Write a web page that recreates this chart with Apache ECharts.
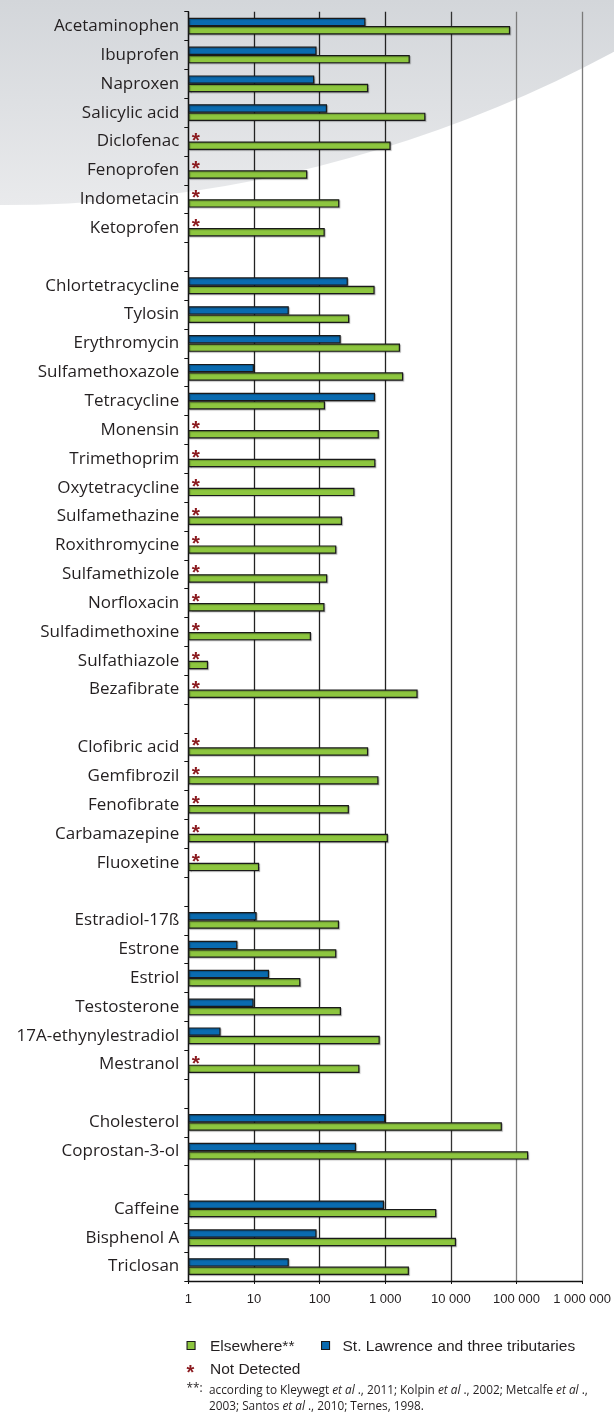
<!DOCTYPE html>
<html>
<head>
<meta charset="utf-8">
<script src="https://cdn.jsdelivr.net/npm/echarts@6/dist/echarts.min.js"></script>
<style>
  html, body { margin: 0; padding: 0; background: #ffffff; }
  #chart { width: 614px; height: 1418px; }
</style>
</head>
<body>
<div id="chart"></div>
<script>
// categories, top to bottom; blank rows separate the groups
const categories = [
  'Acetaminophen', 'Ibuprofen', 'Naproxen', 'Salicylic acid', 'Diclofenac', 'Fenoprofen', 'Indometacin', 'Ketoprofen',
  ' ',
  'Chlortetracycline', 'Tylosin', 'Erythromycin', 'Sulfamethoxazole', 'Tetracycline', 'Monensin', 'Trimethoprim',
  'Oxytetracycline', 'Sulfamethazine', 'Roxithromycine', 'Sulfamethizole', 'Norfloxacin', 'Sulfadimethoxine',
  'Sulfathiazole', 'Bezafibrate',
  '  ',
  'Clofibric acid', 'Gemfibrozil', 'Fenofibrate', 'Carbamazepine', 'Fluoxetine',
  '   ',
  'Estradiol-17ß', 'Estrone', 'Estriol', 'Testosterone', '17A-ethynylestradiol', 'Mestranol',
  '    ',
  'Cholesterol', 'Coprostan-3-ol',
  '     ',
  'Caffeine', 'Bisphenol A', 'Triclosan'
];

// St. Lawrence and three tributaries (ng/L)
const stLawrence = [
  500, 90, 83, 130, null, null, null, null,
  null,
  270, 34, 210, 10, 700, null, null, null, null, null, null, null, null, null, null,
  null,
  null, null, null, null, null,
  null,
  11, 5.6, 17, 9.9, 3.1, null,
  null,
  1000, 360,
  null,
  960, 90, 34
];

// Elsewhere (ng/L)
const elsewhere = [
  80000, 2370, 550, 4100, 1210, 65, 200, 120,
  null,
  690, 283, 1680, 1880, 121, 800, 710, 340, 220, 180, 131, 119, 74, 2, 3120,
  null,
  550, 790, 280, 1100, 12,
  null,
  198, 180, 51, 212, 826, 405,
  null,
  60000, 151000,
  null,
  6000, 12000, 2300
];

// not detected in the St. Lawrence
const notDetected = [
  'Diclofenac', 'Fenoprofen', 'Indometacin', 'Ketoprofen', 'Monensin', 'Trimethoprim', 'Oxytetracycline',
  'Sulfamethazine', 'Roxithromycine', 'Sulfamethizole', 'Norfloxacin', 'Sulfadimethoxine', 'Sulfathiazole',
  'Bezafibrate', 'Clofibric acid', 'Gemfibrozil', 'Fenofibrate', 'Carbamazepine', 'Fluoxetine', 'Mestranol'
];

const xTicks = [1, 10, 100, 1000, 10000, 100000, 1000000];

const BLUE = '#0a6bb0';
const GREEN = '#8dc63f';
const STAR = '#8b1a1f';
const INK = '#231f20';
const LABEL_FONT = '"Open Sans", "Noto Sans", sans-serif';
const TICK_FONT = '"Liberation Sans", Arial, sans-serif';

function spaced(v) {
  return String(Math.round(v)).replace(/\B(?=(\d{3})+(?!\d))/g, ' ');
}

// ND rows: an empty bar carrying the asterisk
const blueData = categories.map((name, i) => {
  if (notDetected.includes(name)) {
    return {
      value: 1,
      itemStyle: { color: 'rgba(0,0,0,0)', borderWidth: 0, shadowColor: 'rgba(0,0,0,0)' },
      label: {
        show: true,
        position: 'right',
        distance: 3.5,
        formatter: '*',
        color: STAR,
        fontFamily: TICK_FONT,
        fontWeight: 'bold',
        fontSize: 21,
        offset: [0, 3.5]
      }
    };
  }
  return stLawrence[i];
});

const barStyle = (color) => ({
  color,
  borderColor: '#1a1a1a',
  borderWidth: 1.2,
  shadowColor: 'rgba(0,0,0,0.25)',
  shadowOffsetX: 1,
  shadowOffsetY: 1,
  shadowBlur: 1
});

const chart = echarts.init(document.getElementById('chart'));

chart.setOption({
  animation: false,
  grid: { left: 188.3, right: 31.3, top: 11.7, height: 1269.3, containLabel: false },
  xAxis: {
    type: 'log',
    logBase: 10,
    min: xTicks[0],
    max: xTicks[xTicks.length - 1],
    interval: 1,
    axisLine: { show: true, lineStyle: { color: '#111', width: 1.3 } },
    axisTick: { show: true, length: 3, lineStyle: { color: '#111' } },
    minorTick: { show: false },
    axisLabel: {
      color: INK,
      fontFamily: TICK_FONT,
      fontSize: 13,
      margin: 12,
      formatter: (v) => spaced(v)
    },
    splitLine: {
      show: true,
      lineStyle: { color: ['#222', '#222', '#222', '#222', '#333', '#7a7a7a', '#7a7a7a'], width: 1.3 }
    }
  },
  yAxis: {
    type: 'category',
    inverse: true,
    data: categories,
    axisLine: { show: true, lineStyle: { color: '#111', width: 1.3 } },
    axisTick: { show: true, length: 4, lineStyle: { color: '#111' } },
    axisLabel: {
      color: INK,
      fontFamily: LABEL_FONT,
      fontSize: 17,
      margin: 9,
      interval: 0
    },
    splitLine: { show: false }
  },
  series: [
    {
      name: 'St. Lawrence and three tributaries',
      type: 'bar',
      data: blueData,
      barWidth: 8.4,
      barGap: '0%',
      itemStyle: barStyle(BLUE),
      z: 3
    },
    {
      name: 'Elsewhere**',
      type: 'bar',
      data: elsewhere,
      barWidth: 8.4,
      barGap: '0%',
      itemStyle: barStyle(GREEN),
      z: 3
    }
  ],
  graphic: [
    // grey swoosh behind the top of the chart (bottom arc of a large circle)
    {
      type: 'circle',
      z: -100,
      silent: true,
      shape: { cx: 5, cy: -1082, r: 1287 },
      style: {
        fill: {
          type: 'linear', x: 0, y: 0, x2: 0, y2: 205, global: true,
          colorStops: [
            { offset: 0, color: '#d3d6da' },
            { offset: 1, color: '#e9eaec' }
          ]
        }
      }
    },
    // legend
    { type: 'rect', left: 186.5, top: 1341, shape: { width: 8, height: 8 }, style: { fill: GREEN, stroke: '#1a1a1a', lineWidth: 1.1 } },
    { type: 'text', left: 210, top: 1339, style: { text: 'Elsewhere**', fill: INK, font: '15.5px "Liberation Sans", Arial, sans-serif' } },
    { type: 'rect', left: 321, top: 1341, shape: { width: 8, height: 8 }, style: { fill: BLUE, stroke: '#1a1a1a', lineWidth: 1.1 } },
    { type: 'text', left: 342.5, top: 1339, style: { text: 'St. Lawrence and three tributaries', fill: INK, font: '15.5px "Liberation Sans", Arial, sans-serif' } },
    { type: 'text', left: 186.5, top: 1363, style: { text: '*', fill: STAR, font: 'bold 20px "Liberation Sans", Arial, sans-serif' } },
    { type: 'text', left: 210, top: 1361.5, style: { text: 'Not Detected', fill: INK, font: '15.5px "Liberation Sans", Arial, sans-serif' } },
    // reference note
    { type: 'text', left: 186.5, top: 1383, style: { text: '**:', fill: INK, font: '11.8px "Open Sans", sans-serif' } },
    {
      type: 'text',
      left: 209,
      top: 1383,
      style: {
        text: 'according to Kleywegt {i|et al} ., 2011; Kolpin {i|et al} ., 2002; Metcalfe {i|et al} .,\n2003; Santos {i|et al} ., 2010; Ternes, 1998.',
        fill: INK,
        font: '11.8px "Open Sans", sans-serif',
        lineHeight: 16,
        rich: { i: { fontStyle: 'italic', fontFamily: 'Open Sans', fontSize: 11.8, fill: INK, lineHeight: 16 } }
      }
    }
  ]
});
</script>
</body>
</html>
